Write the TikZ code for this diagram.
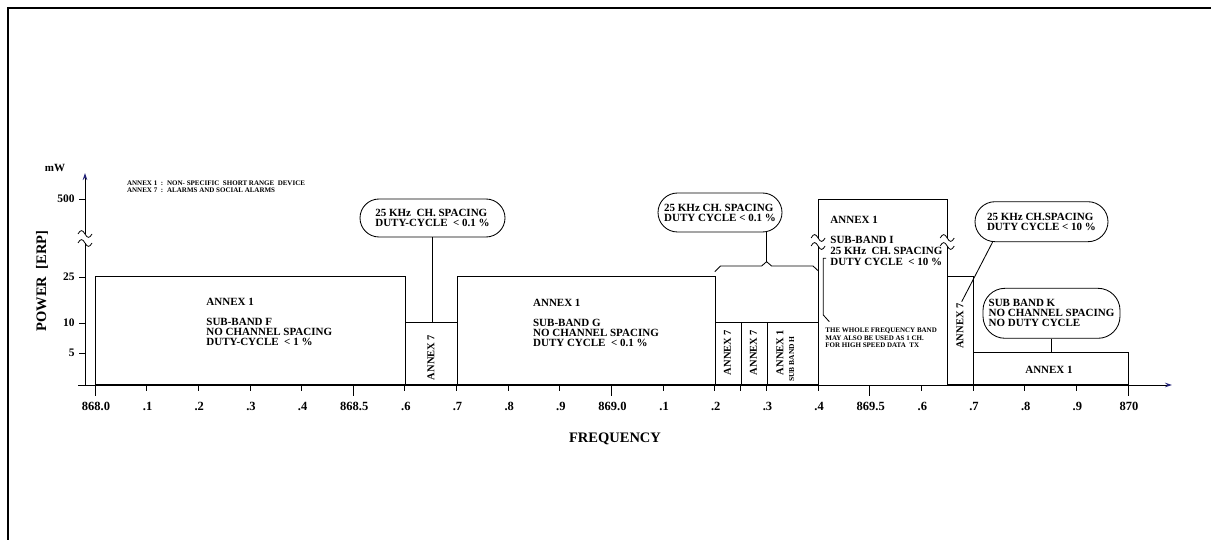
\documentclass[tikz,border=0pt]{standalone}
\usepackage{fontspec}
\setmainfont{Liberation Serif}
\usetikzlibrary{arrows.meta,calc}
\definecolor{navyc}{RGB}{35,35,120}
\begin{document}
\begin{tikzpicture}[x=1pt,y=-1pt,line width=0.85pt,
  barbox/.style={draw,inner sep=0pt,anchor=south west},
  bodytxt/.style={anchor=north west,align=left,inner sep=0pt,font={\fontsize{11}{10}\selectfont\bfseries}},
  smalltxt/.style={anchor=north west,align=left,inner sep=0pt,font={\fontsize{7}{7.5}\selectfont\bfseries}},
  callout/.style={draw,fill=white,align=left,inner sep=0pt,font={\fontsize{11}{10}\selectfont\bfseries}},
  vtxt/.style={rotate=90,inner sep=0pt,font={\fontsize{10.5}{10.5}\selectfont\bfseries}},
  xlab/.style={inner sep=0pt,font={\fontsize{12.5}{12.5}\selectfont\bfseries}},
  ylab/.style={anchor=east,inner sep=0pt,font={\fontsize{11.5}{11.5}\selectfont\bfseries}},
  axtip/.style={-{Stealth[length=7pt,width=4.5pt,color=navyc]}},
  brk/.pic={\draw[line width=0.8pt] (-7,0) .. controls (-4.5,-4.5) and (-2.5,-4.5) .. (0,0) .. controls (2.5,4.5) and (4.5,4.5) .. (7,0);}
]
\useasboundingbox (0,0) rectangle (1211,540);
% frame
\draw[line width=1.4pt] (8,540) -- (8,8) -- (1211,8);

% axes
\draw[axtip] (78,385) -- (1172,385);
\draw (85,385) -- (85,243);
\draw[axtip] (85,234) -- (85,173);
\pic at (85,234) {brk};
\pic at (85,243) {brk};

% y ticks and labels
\foreach \yy/\lab/\nm in {199/500/y500,277/25/y25,323/10/y10,353/5/y5}{
  \draw (79,\yy) -- (85,\yy);
  \node[ylab] (\nm) at (75,\yy) {\lab};
}
\node[inner sep=0pt,font={\fontsize{11}{11}\selectfont\bfseries}] (mw) at (55,168) {mW};
\node[rotate=90,inner sep=0pt,font={\fontsize{14.5}{14.5}\selectfont\bfseries}] (power) at (42,281) {POWER \ [ERP]};

% x ticks
\foreach \k in {1,2,3,4,6,7,8,9,11,12,13,14,16,17,18,19}{
  \draw ({95+\k*51.65},385) -- ({95+\k*51.65},391);
}
\draw (740.6,385) -- (740.6,391);
\foreach \k in {0,5,10,15,20}{
  \draw ({95+\k*51.65},385) -- ({95+\k*51.65},396);
}
% x labels
\foreach \k/\lab in {0/868.0,1/.1,2/.2,3/.3,4/.4,5/868.5,6/.6,7/.7,8/.8,9/.9,10/869.0,11/.1,12/.2,13/.3,14/.4,15/869.5,16/.6,17/.7,18/.8,19/.9,20/870}{
  \node[xlab] (xl\k) at ({95+\k*51.65+1},406.8) {\lab};
}
\node[inner sep=0pt,font={\fontsize{14.5}{14.5}\selectfont\bfseries}] (freq) at (615,439) {FREQUENCY};

% legend
\node[smalltxt,font={\fontsize{7}{7}\selectfont\bfseries}] (legend) at (126.7,180) {ANNEX 1 \ : \ NON- SPECIFIC \ SHORT RANGE \ DEVICE\\ANNEX 7 \ : \ ALARMS AND SOCIAL ALARMS};

% bars
\node[barbox,minimum width=310pt,minimum height=108pt] (bF) at (95,385) {};
\node[barbox,minimum width=51.7pt,minimum height=62pt] (a7a) at (404.9,385) {};
\node[barbox,minimum width=258.2pt,minimum height=108pt] (bG) at (456.6,385) {};
\node[barbox,minimum width=25.8pt,minimum height=62pt] (h1) at (714.8,385) {};
\node[barbox,minimum width=25.9pt,minimum height=62pt] (h2) at (740.6,385) {};
\node[barbox,minimum width=51.6pt,minimum height=62pt] (h3) at (766.5,385) {};
\node[barbox,minimum width=25.8pt,minimum height=108pt] (a7r) at (947.2,385) {};
\node[barbox,minimum width=155pt,minimum height=32pt] (bK) at (973,385) {};

% sub-band I (broken edges)
\draw (818.1,385) -- (818.1,246);
\draw (818.1,238) -- (818.1,199) -- (947.2,199) -- (947.2,238);
\draw (947.2,246) -- (947.2,385);
\pic at (818.1,238) {brk};
\pic at (818.1,246) {brk};
\pic at (947.2,238) {brk};
\pic at (947.2,246) {brk};

% texts in bars
\node[bodytxt] (tF) at (206,298) {ANNEX 1\\[10pt]SUB-BAND F\\NO CHANNEL SPACING\\DUTY-CYCLE \ < 1 \%};
\node[bodytxt] (tG) at (532.7,298.5) {ANNEX 1\\[10pt]SUB-BAND G\\NO CHANNEL SPACING\\DUTY CYCLE \ < 0.1 \%};
\node[bodytxt,font={\fontsize{11}{10.7}\selectfont\bfseries}] (tI) at (830,215.5) {ANNEX 1\\[10pt]SUB-BAND I\\25 KHz \ CH. SPACING\\DUTY CYCLE \ < 10 \%};
\node[smalltxt] (tNote) at (825,327.7) {THE WHOLE FREQUENCY BAND\\MAY ALSO BE USED AS 1 CH.\\FOR HIGH SPEED DATA \ TX};
\node[vtxt] (v1) at (431,357.5) {ANNEX 7};
\node[vtxt] (v2) at (727.3,352.5) {ANNEX 7};
\node[vtxt] (v3) at (753.3,352.5) {ANNEX 7};
\node[vtxt] (v4) at (780,352.5) {ANNEX 1};
\node[rotate=90,inner sep=0pt,font={\fontsize{7.5}{7.5}\selectfont\bfseries}] (v5) at (791.7,359) {SUB BAND H};
\node[vtxt] (v6) at (960,326) {ANNEX 7};
\node[inner sep=0pt,font={\fontsize{11}{10}\selectfont\bfseries}] (tK) at (1049,370) {ANNEX 1};

% callouts
\node[callout,minimum width=145pt,minimum height=38pt,rounded corners=19pt] (c1) at (432.5,218) {25 KHz \ CH. SPACING\\DUTY-CYCLE \ < 0.1 \%};
\node[callout,minimum width=124pt,minimum height=39pt,rounded corners=19.5pt] (c2) at (720,212.5) {25 KHz CH. SPACING\\DUTY CYCLE < 0.1 \%};
\node[callout,minimum width=133pt,minimum height=40pt,rounded corners=20pt] (c3) at (1041.5,221.7) {25 KHz CH.SPACING\\DUTY CYCLE < 10 \%};
\node[callout,minimum width=137pt,minimum height=50pt,rounded corners=22pt] (cK) at (1051.5,313.3) {SUB BAND K\\NO CHANNEL SPACING\\NO DUTY CYCLE};

% connectors
\draw (c1.south) -- (c1.south |- a7a.north);
\coordinate (bpk) at (766.6,261.7);
\draw (bpk) -- (bpk |- c2.south);
\draw (714.8,271.7) -- (720.5,266) -- (761.6,266) -- (bpk) -- (771.6,266) -- (813,266) -- (818.1,270.7);
\draw (826,258.3) -- (823.3,258.3) -- (823.3,315) -- (829.3,321.7);
\coordinate (a7tip) at (961.7,301.7);
\draw (a7tip) -- ($(c3.south west)+(18,0)$);
\draw (cK.south) -- (cK.south |- bK.north);
\end{tikzpicture}
\end{document}
